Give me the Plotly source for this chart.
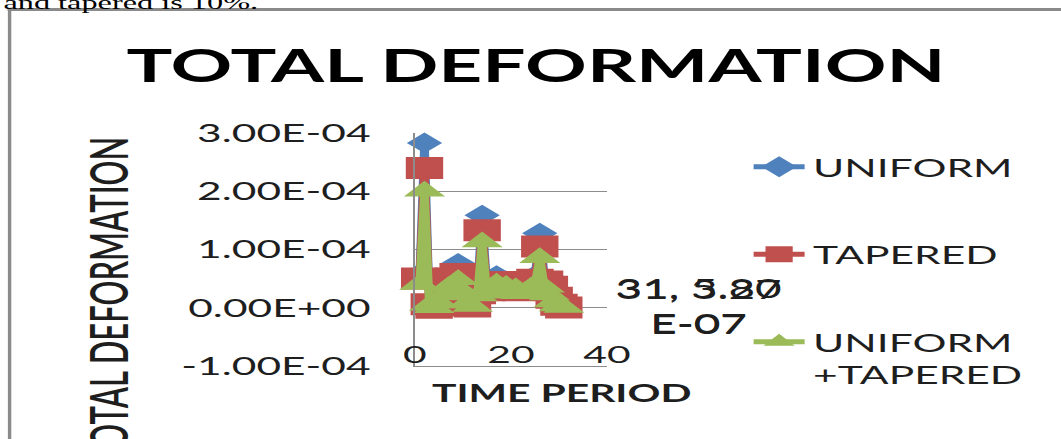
import plotly.graph_objects as go

# ---- data -------------------------------------------------------------
time_period = list(range(1, 32))

uniform = [0.58e-4, 2.83e-4, 0.10e-4, 0.03e-4, 0.10e-4, 0.28e-4, 0.48e-4, 0.62e-4,
           0.76e-4, 0.40e-4, 0.15e-4, 0.06e-4, 0.30e-4, 1.59e-4, 0.35e-4, 0.42e-4,
           0.55e-4, 0.40e-4, 0.46e-4, 0.38e-4, 0.42e-4, 0.34e-4, 0.40e-4, 0.48e-4,
           0.55e-4, 1.28e-4, 0.52e-4, 0.38e-4, 0.20e-4, 0.07e-4, 5.80e-7]

tapered = [0.50e-4, 2.40e-4, 0.06e-4, 0.00e-4, 0.04e-4, 0.20e-4, 0.38e-4, 0.50e-4,
           0.58e-4, 0.34e-4, 0.10e-4, 0.02e-4, 0.25e-4, 1.33e-4, 0.30e-4, 0.38e-4,
           0.44e-4, 0.36e-4, 0.40e-4, 0.34e-4, 0.40e-4, 0.30e-4, 0.36e-4, 0.44e-4,
           0.48e-4, 1.05e-4, 0.45e-4, 0.36e-4, 0.17e-4, 0.05e-4, 4.40e-7]

uniform_tapered = [0.40e-4, 2.00e-4, 0.04e-4, 0.00e-4, 0.08e-4, 0.22e-4, 0.36e-4, 0.40e-4,
                   0.48e-4, 0.25e-4, 0.08e-4, 0.02e-4, 0.20e-4, 1.13e-4, 0.25e-4, 0.30e-4,
                   0.42e-4, 0.30e-4, 0.38e-4, 0.28e-4, 0.34e-4, 0.24e-4, 0.28e-4, 0.34e-4,
                   0.40e-4, 0.86e-4, 0.35e-4, 0.22e-4, 0.10e-4, 0.03e-4, 3.27e-7]

series_names = ["UNIFORM", "TAPERED", "UNIFORM<br>+TAPERED"]
y_ticks = [-1e-4, 0.0, 1e-4, 2e-4, 3e-4]
x_ticks = [0, 20, 40]

# ---- page geometry (the chart is drawn narrow, then widened horizontally) --
PAGE_W, PAGE_H = 1061, 439
SX = 1.7
W = round(PAGE_W / SX)
SX = PAGE_W / W

PLOT_L = 415 / SX
PLOT_R = 607 / SX
PLOT_T = 133
PLOT_B = 366
PW = PLOT_R - PLOT_L
PH = PLOT_B - PLOT_T


def px_x(px):
    """page x pixel (after widening) -> paper x"""
    return (px / SX - PLOT_L) / PW


def px_y(py):
    """page y pixel -> paper y"""
    return (PLOT_B - py) / PH


BLUE, RED, GREEN = "#4F81BD", "#C0504D", "#9BBB59"
GRID = "#8C8C8C"
TXT = "#1E1E1E"
FONT = "Lato"

fig = go.Figure()

styles = [
    (uniform, BLUE, "diamond", 16),
    (tapered, RED, "square", 22),
    (uniform_tapered, GREEN, "triangle-up", 21),
]
for name, (vals, col, sym, size) in zip(series_names, styles):
    fig.add_trace(go.Scatter(
        x=time_period, y=vals, name=name, legendgroup=name,
        mode="lines+markers",
        line=dict(color=col, width=5),
        marker=dict(symbol=sym, size=size, color=col, line=dict(width=0)),
        cliponaxis=False,
    ))

# data labels on the last time period
last_x = time_period[-1]
for vals in (uniform, uniform_tapered):
    v = vals[-1]
    mant, ex = f"{v:.2E}".split("E")
    fig.add_annotation(
        x=last_x, y=v, xref="x", yref="y",
        text=f"{last_x}, {mant}<br>E{ex}",
        showarrow=False, xanchor="left", yanchor="middle", align="center",
        xshift=612 / SX - (PLOT_L + last_x / 40 * PW), yshift=2,
        font=dict(family=FONT, size=27, color=TXT),
    )

# vertical axis title
fig.add_annotation(
    x=px_x(108), y=px_y(301), xref="paper", yref="paper",
    text="TOTAL DEFORMATION", textangle=-90, showarrow=False,
    xanchor="center", yanchor="middle",
    font=dict(family=FONT, size=31, weight=600, color=TXT),
)

# horizontal axis title
fig.add_annotation(
    x=px_x(562), y=px_y(392), xref="paper", yref="paper",
    text="TIME PERIOD", showarrow=False,
    xanchor="center", yanchor="middle",
    font=dict(family=FONT, size=24, weight=700, color=TXT),
)

# line of body text above the chart frame
fig.add_annotation(
    x=px_x(0), y=px_y(2), xref="paper", yref="paper",
    text="and tapered is 10%.", showarrow=False,
    xanchor="left", yanchor="middle",
    font=dict(family="Liberation Serif", size=19, color="#000000"),
)

# chart frame (top and left edges)
fig.add_shape(type="line", xref="paper", yref="paper",
              x0=px_x(8), x1=px_x(1080), y0=px_y(9.5), y1=px_y(9.5),
              line=dict(color="#8A8A8A", width=3))
fig.add_shape(type="line", xref="paper", yref="paper",
              x0=px_x(10), x1=px_x(10), y0=px_y(8), y1=px_y(460),
              line=dict(color="#8A8A8A", width=2))

fig.update_layout(
    width=W, height=PAGE_H,
    margin=dict(l=PLOT_L, r=W - PLOT_R, t=PLOT_T, b=PAGE_H - PLOT_B, autoexpand=False),
    paper_bgcolor="white", plot_bgcolor="white",
    title=dict(text="TOTAL DEFORMATION", xref="container", yref="container",
               x=536 / PAGE_W, y=1 - 66 / PAGE_H, xanchor="center", yanchor="middle",
               font=dict(family=FONT, size=45, weight=700, color="#000000")),
    showlegend=True,
    legend=dict(
        x=px_x(745), y=px_y(144), xanchor="left", yanchor="top",
        traceorder="grouped", tracegroupgap=52, valign="top", maxheight=420,
        font=dict(family=FONT, size=25, color=TXT),
        bgcolor="rgba(0,0,0,0)", itemsizing="trace",
    ),
    xaxis=dict(
        range=[0, 40], tickvals=x_ticks, ticktext=[str(t) for t in x_ticks],
        ticklabelposition="inside", ticklabeloverflow="allow",
        showgrid=False, zeroline=False, showline=True, linecolor=GRID, linewidth=1,
        ticks="", tickfont=dict(family=FONT, size=24, color=TXT),
    ),
    yaxis=dict(
        range=[-1e-4, 3e-4], tickvals=y_ticks,
        ticktext=[f"{t:.2E}" for t in y_ticks],
        showgrid=True, gridcolor=GRID, gridwidth=1, zeroline=False,
        showline=True, linecolor=GRID, linewidth=1, ticks="",
        ticklabelstandoff=20,
        tickfont=dict(family=FONT, size=25, color=TXT),
    ),
)

post = """
var gd = document.getElementById('{plot_id}');
document.documentElement.style.margin = '0';
document.body.style.margin = '0';
document.documentElement.style.overflow = 'hidden';
document.body.style.overflow = 'hidden';
gd.style.transformOrigin = '0 0';
gd.style.transform = 'scale(%.5f, 1)';
""" % SX

fig.write_html("out.html", config={"displayModeBar": False}, post_script=post)
